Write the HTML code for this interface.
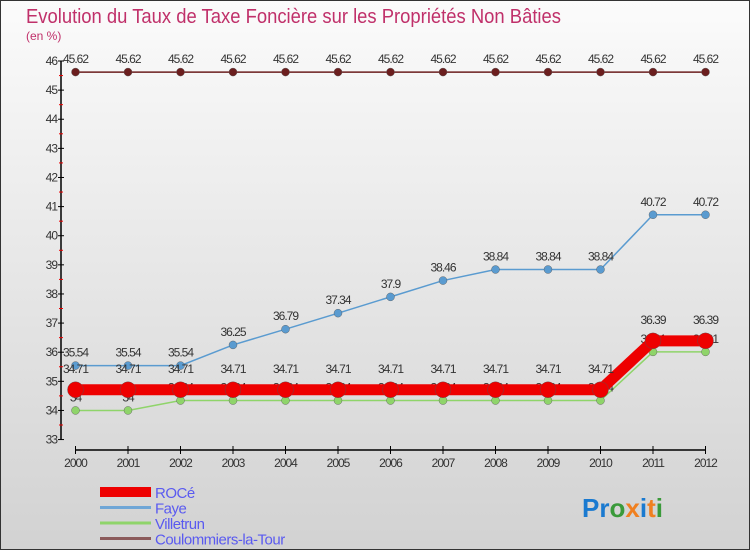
<!DOCTYPE html>
<html><head><meta charset="utf-8"><style>
body{margin:0;width:750px;height:550px;overflow:hidden;font-family:"Liberation Sans",sans-serif}
#wrap{position:absolute;left:0;top:0;width:748px;height:548px;border:1px solid #333;background:linear-gradient(#fbfbfb,#d2d2d2)}
</style></head><body>
<div id="wrap">
<svg id="chart" width="750" height="550" style="position:absolute;left:-1px;top:-1px">
<text x="26" y="23" font-size="20" fill="#c0306a" textLength="535" lengthAdjust="spacingAndGlyphs">Evolution du Taux de Taxe Foncière sur les Propriétés Non Bâties</text>
<text x="26" y="40" font-size="12" fill="#c0306a">(en %)</text>
<g id="axes"></g><g id="series"></g><g id="legend"></g>
<text x="582" y="517" font-size="26" font-weight="bold"><tspan fill="#1a7ad0">Pr</tspan><tspan fill="#3a9a3a">o</tspan><tspan fill="#f08020">x</tspan><tspan fill="#1a7ad0">i</tspan><tspan fill="#f08020">t</tspan><tspan fill="#3a9a3a">i</tspan></text>
</svg>
</div>
<script>
const years=[2000,2001,2002,2003,2004,2005,2006,2007,2008,2009,2010,2011,2012];
const yTicks=[33,34,35,36,37,38,39,40,41,42,43,44,45,46];
const roce=[34.71,34.71,34.71,34.71,34.71,34.71,34.71,34.71,34.71,34.71,34.71,36.39,36.39];
const faye=[35.54,35.54,35.54,36.25,36.79,37.34,37.9,38.46,38.84,38.84,38.84,40.72,40.72];
const villetrun=[34,34,34.34,34.34,34.34,34.34,34.34,34.34,34.34,34.34,34.34,36.01,36.01];
const coulommiers=[45.62,45.62,45.62,45.62,45.62,45.62,45.62,45.62,45.62,45.62,45.62,45.62,45.62];
const names=["ROCé","Faye","Villetrun","Coulommiers-la-Tour"];
const NS="http://www.w3.org/2000/svg";
const X=i=>75.5+i*52.5;
const Y=v=>61+(46-v)*29.12;
function mk(tag,at,parent){const e=document.createElementNS(NS,tag);for(const k in at)e.setAttribute(k,at[k]);parent.appendChild(e);return e;}
const ax=document.getElementById('axes');
let l=mk('line',{x1:61,y1:Y(46),x2:61,y2:Y(33),stroke:'#000','stroke-width':1.5},ax);


yTicks.forEach(v=>{
 mk('line',{x1:58,x2:64,y1:Y(v),y2:Y(v),stroke:'#000'},ax);
 if(v<46) mk('line',{x1:59,x2:63,y1:Y(v+0.5),y2:Y(v+0.5),stroke:'#e00'},ax);
 const t=mk('text',{x:57,y:Y(v)+4,'font-size':12,'text-anchor':'end',fill:'#333','letter-spacing':'-1'},ax);
 t.textContent=v;
 
 
});
l=mk('line',{x1:X(0),y1:450,x2:X(12),y2:450,stroke:'#000','stroke-width':1.5},ax);


years.forEach((y,i)=>{
 mk('line',{x1:X(i),x2:X(i),y1:446,y2:454,stroke:'#000'},ax);
 const t=mk('text',{x:X(i),y:467,'font-size':12,'text-anchor':'middle',fill:'#333','letter-spacing':'-1'},ax);
 t.textContent=y;
 
 
});
const sg=document.getElementById('series');
function series(data,color,w,r,name,dy){
 const g=mk('g',{},sg);
 
 
 const p=mk('polyline',{points:data.map((v,i)=>X(i)+','+Y(v)).join(' '),fill:'none',stroke:color,'stroke-width':w},g);
 
 
 data.forEach((v,i)=>{
  const c=mk('circle',{cx:X(i),cy:Y(v),r:r,fill:color,stroke:'#555','stroke-width':0.4},g);
  
  
  const t=mk('text',{x:X(i),y:Y(v)+dy,'font-size':12,'text-anchor':'middle',fill:'#333','letter-spacing':'-1'},g);
  t.textContent=v;
  
  
 });
}
series(coulommiers,'#6b1e1e',1.5,4,'coulommiers',-9);
series(faye,'#5a9bd0',1.5,4,'faye',-9);
series(villetrun,'#8fd46a',1.5,4,'villetrun',-9);
series(roce,'#ee0000',11,8,'roce',-17);
const lg=document.getElementById('legend');
const cols=['#ee0000','#6fa6d6','#8fd46a','#8b5a5a'];const ws=[10,3,3,3];
names.forEach((n,i)=>{
 const y=492+i*15.5;
 const g=mk('g',{},lg);
 
 
 mk('line',{x1:100,x2:151,y1:y,y2:y,stroke:cols[i],'stroke-width':ws[i]},g);
 const t=mk('text',{x:155,y:y+6,'font-size':15,fill:'#5a5af0','letter-spacing':'-0.5'},g);
 t.textContent=n;
});
</script>
</body></html>
